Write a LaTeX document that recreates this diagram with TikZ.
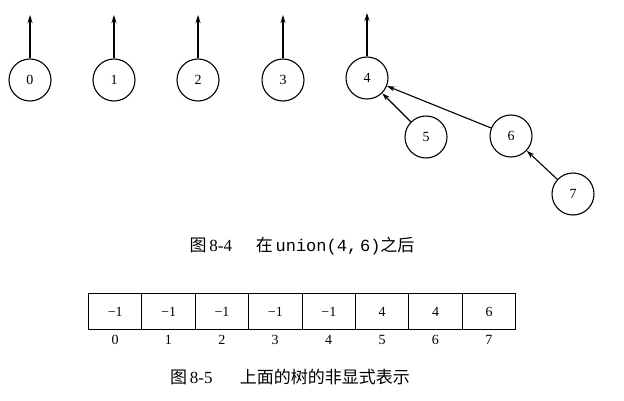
\documentclass[tikz,border=0pt]{standalone}
\usepackage{fontspec}
\setmainfont{Liberation Serif}
\setmonofont{Liberation Mono}
\newfontfamily\cjk{Noto Sans CJK SC}
\usetikzlibrary{arrows.meta}
\begin{document}
\begin{tikzpicture}[x=1pt,y=-1pt,
  vert/.style={circle,draw,line width=1.1pt,minimum size=42pt,inner sep=0pt,font=\fontsize{14}{16}\selectfont},
  ptr/.style={line width=1.1pt,-{Stealth[length=8pt,width=5pt]}},
  cell/.style={draw,line width=1pt,minimum width=53.4pt,minimum height=36pt,inner sep=0pt,anchor=north west,font=\fontsize{14}{16}\selectfont},
  idx/.style={font=\fontsize{14}{16}\selectfont},
  captext/.style={font=\fontsize{17}{19}\selectfont}]
\useasboundingbox (0,0) rectangle (624,401);
% trees
\node[vert] (n0) at (30,80) {0};
\node[vert] (n1) at (114,80) {1};
\node[vert] (n2) at (198,80) {2};
\node[vert] (n3) at (283,80) {3};
\node[vert] (n4) at (367,78) {4};
\node[vert] (n5) at (426,137) {5};
\node[vert] (n6) at (511,136) {6};
\node[vert] (n7) at (573,194) {7};
\coordinate (t0) at (30,15);
\coordinate (t1) at (114,15);
\coordinate (t2) at (198,15);
\coordinate (t3) at (283,15);
\coordinate (t4) at (367,13);
\draw[ptr] (n0) -- (t0);
\draw[ptr] (n1) -- (t1);
\draw[ptr] (n2) -- (t2);
\draw[ptr] (n3) -- (t3);
\draw[ptr] (n4) -- (t4);
\draw[ptr] (n5) -- (n4);
\draw[ptr] (n6) -- (n4);
\draw[ptr] (n7) -- (n6);
% caption 1
\node[captext] (cap1) at (302,246) {{\cjk 图}\,8-4\hspace{1.4em}{\cjk 在}\,\texttt{union(4,\,6)}{\cjk 之后}};
% array
\foreach \v [count=\i from 0] in {−1,−1,−1,−1,−1,4,4,6} {
  \node[cell] (c\i) at (88+53.4*\i,293) {\v};
  \node[idx] (i\i) at (115+53.4*\i,340) {\i};
}
% caption 2
\node[captext] (cap2) at (290,377) {{\cjk 图}\,8-5\hspace{1.6em}{\cjk 上面的树的非显式表示}};
\end{tikzpicture}
\end{document}
